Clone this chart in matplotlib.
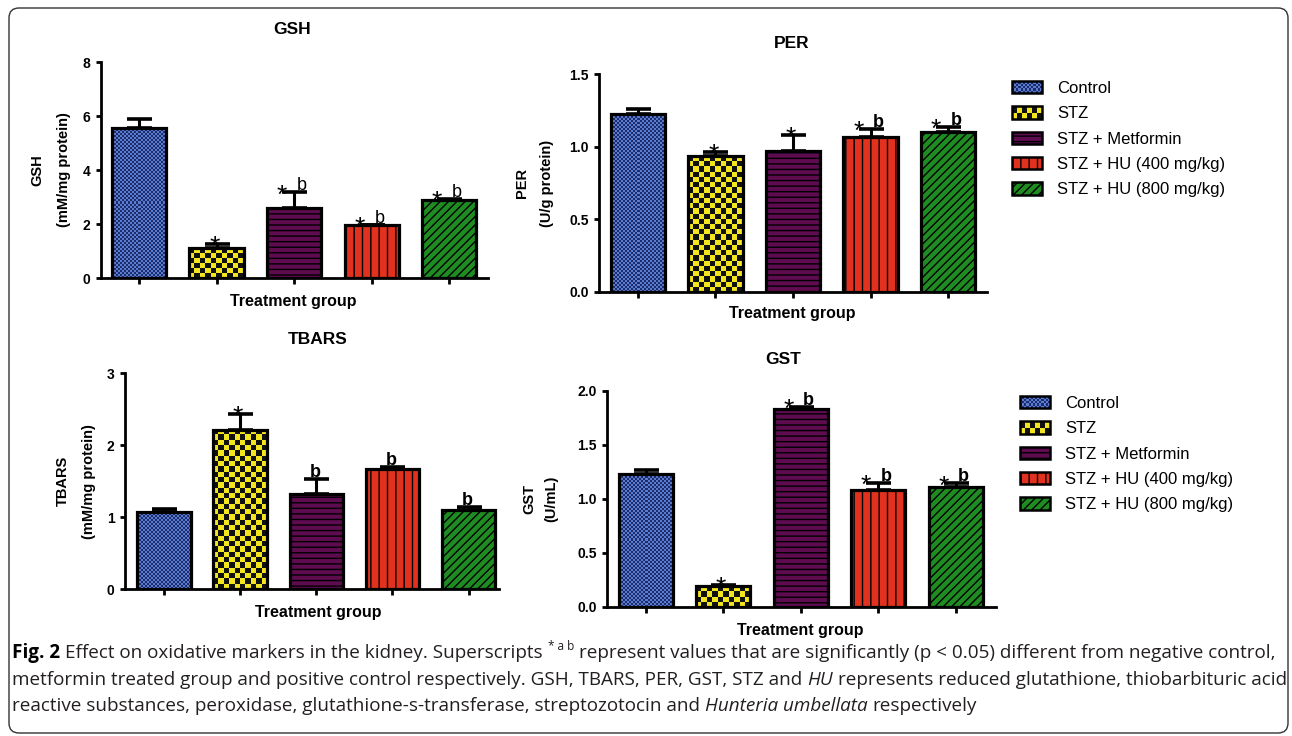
import numpy as np
import matplotlib
matplotlib.use('Agg')
import matplotlib.pyplot as plt
from matplotlib.colors import ListedColormap
from matplotlib.patches import Patch, Rectangle, FancyBboxPatch
from matplotlib.legend_handler import HandlerBase
from matplotlib.transforms import IdentityTransform

W, H = 1292, 736

groups = ['Control', 'STZ', 'STZ + Metformin', 'STZ + HU (400 mg/kg)', 'STZ + HU (800 mg/kg)']

# mean and upper error
gsh_mean = [5.57, 1.10, 2.60, 1.95, 2.88]
gsh_err = [0.32, 0.15, 0.57, 0.03, 0.04]
gsh_sig = ['', '*', '*b', '*b', '*b']

per_mean = [1.224, 0.937, 0.973, 1.070, 1.102]
per_err = [0.035, 0.025, 0.106, 0.051, 0.033]
per_sig = ['', '*', '*', '*b', '*b']

tbars_mean = [1.078, 2.217, 1.319, 1.675, 1.100]
tbars_err = [0.037, 0.223, 0.213, 0.025, 0.047]
tbars_sig = ['', '*', 'b', 'b', 'b']

gst_mean = [1.229, 0.191, 1.830, 1.084, 1.109]
gst_err = [0.040, 0.015, 0.021, 0.062, 0.034]
gst_sig = ['', '*', '*b', '*b', '*b']

colors = ['#4a6cc4', '#f3e61e', '#5e0b50', '#e2321f', '#1f8c22']
hatches = [None, None, '---', '||', '////']

plt.rcParams['font.family'] = ['Liberation Sans', 'DejaVu Sans']
plt.rcParams['hatch.linewidth'] = 1.0

fig = plt.figure(figsize=(W / 100, H / 100), dpi=100)
fig.patch.set_facecolor('white')


def fx(x):
    return x / W


def fy(y):
    return 1 - y / H


def add_checker(ax, bar, sq, c1, c2):
    x0 = bar.get_x()
    w = bar.get_width()
    h = bar.get_height()
    p0 = ax.transData.transform((x0, 0))
    p1 = ax.transData.transform((x0 + w, h))
    nx = max(1, int(round((p1[0] - p0[0]) / sq)))
    ny = max(1, int(round((p1[1] - p0[1]) / sq)))
    arr = np.add.outer(np.arange(ny), np.arange(nx)) % 2
    im = ax.imshow(arr, extent=(x0, x0 + w, 0, h), cmap=ListedColormap([c1, c2]),
                   interpolation='nearest', aspect='auto', origin='lower', zorder=2.5)
    im.set_clip_path(bar)


def panel(rect, xlim, mean, err, sig, ylim, yticks, fmt, title, title_xy, ylab, ylab_x, xlab_xy, bold_b):
    left, top, right, bottom = rect
    ax = fig.add_axes([fx(left), fy(bottom), (right - left) / W, (bottom - top) / H])
    x = np.arange(len(mean))
    ax.set_xlim(*xlim)
    ax.set_ylim(*ylim)
    bars = ax.bar(x, mean, 0.70, color=colors, edgecolor='black', linewidth=0, zorder=2)
    for b, hch in zip(bars, hatches):
        if hch:
            b.set_hatch(hch)
    add_checker(ax, bars[0], 2.0, '#5a7cd0', '#1d2c6a')
    add_checker(ax, bars[1], 5.3, '#f3e61e', '#111111')
    ax.bar(x, mean, 0.70, fill=False, edgecolor='black', linewidth=2.3, zorder=4)
    ax.errorbar(x, mean, yerr=[np.zeros(len(err)), err], fmt='none', ecolor='black',
                elinewidth=2.2, capsize=9, capthick=2.6, zorder=3)
    fw = 'bold' if bold_b else 'normal'
    star = dict(textcoords='offset pixels', ha='center', va='baseline', fontsize=19, zorder=5)
    for xi, m, e, s in zip(x, mean, err, sig):
        top_v = m + e
        if s == '*':
            ax.annotate('*', (xi, top_v), xytext=(-2, -10), **star)
        elif s == 'b':
            ax.annotate('b', (xi, top_v), xytext=(-1, 2), textcoords='offset pixels',
                        ha='center', va='baseline', fontsize=13, fontweight=fw, zorder=5)
        elif s == '*b':
            ax.annotate('*', (xi, top_v), xytext=(-12, -10), **star)
            ax.annotate('b', (xi, top_v), xytext=(8, 2), textcoords='offset pixels',
                        ha='center', va='baseline', fontsize=13, fontweight=fw, zorder=5)
    ax.set_yticks(yticks)
    ax.set_yticklabels([fmt % t for t in yticks], fontweight='bold', fontsize=10)
    ax.set_xticks(x)
    ax.set_xticklabels([])
    for sp in ['top', 'right']:
        ax.spines[sp].set_visible(False)
    for sp in ['left', 'bottom']:
        ax.spines[sp].set_linewidth(2)
    ax.tick_params(axis='y', width=2, length=3.5, pad=4)
    ax.tick_params(axis='x', width=2, length=4.5)
    ax.set_facecolor('none')
    fig.text(fx(title_xy[0]), fy(title_xy[1]), title, ha='center', va='center',
             fontsize=12.5, fontweight='bold')
    yc = fy((top + bottom) / 2)
    fig.text(fx(ylab_x[0]), yc, title, rotation=90, ha='center', va='center',
             fontsize=10.5, fontweight='bold')
    fig.text(fx(ylab_x[1]), yc, ylab, rotation=90, ha='center', va='center',
             fontsize=10.5, fontweight='bold')
    fig.text(fx(xlab_xy[0]), fy(xlab_xy[1]), 'Treatment group', ha='center', va='center',
             fontsize=11.5, fontweight='bold')
    return ax


panel((101, 62, 488, 278), (-0.49, 4.5), gsh_mean, gsh_err, gsh_sig, (0, 8), [0, 2, 4, 6, 8], '%d',
      'GSH', (292, 30), '(mM/mg protein)', (37, 64), (293, 301), False)
panel((599, 74.3, 987, 291.7), (-0.5, 4.5), per_mean, per_err, per_sig, (0, 1.5), [0, 0.5, 1.0, 1.5], '%.1f',
      'PER', (792, 44), '(U/g protein)', (522, 547), (792, 314), True)
panel((125, 373.3, 499, 589.3), (-0.51, 4.4), tbars_mean, tbars_err, tbars_sig, (0, 3), [0, 1, 2, 3], '%d',
      'TBARS', (318, 340), '(mM/mg protein)', (63, 89), (318, 612), True)
panel((607, 390.7, 996, 607), (-0.5, 4.52), gst_mean, gst_err, gst_sig, (0, 2.0), [0, 0.5, 1.0, 1.5, 2.0], '%.1f',
      'GST', (783, 359), '(U/mL)', (529, 551), (800, 630), True)


class CheckerHandler(HandlerBase):
    def __init__(self, c1, c2, nx, ny):
        super().__init__()
        self.c1, self.c2, self.nx, self.ny = c1, c2, nx, ny

    def create_artists(self, legend, orig_handle, xdescent, ydescent, width, height, fontsize, trans):
        x0, y0 = -xdescent, -ydescent
        arts = [Rectangle((x0, y0), width, height, facecolor=self.c1, edgecolor='none', transform=trans)]
        dx, dy = width / self.nx, height / self.ny
        for i in range(self.nx):
            for j in range(self.ny):
                if (i + j) % 2:
                    arts.append(Rectangle((x0 + i * dx, y0 + j * dy), dx, dy, facecolor=self.c2,
                                          edgecolor='none', transform=trans))
        arts.append(Rectangle((x0, y0), width, height, facecolor='none', edgecolor='black',
                              linewidth=1.8, transform=trans))
        return arts


def add_legend(x, y):
    handles = []
    for c, hch in zip(colors, hatches):
        handles.append(Patch(facecolor=c, edgecolor='black', hatch=hch, linewidth=1.8))
    hmap = {handles[0]: CheckerHandler('#5a7cd0', '#1d2c6a', 14, 5),
            handles[1]: CheckerHandler('#f3e61e', '#111111', 6, 2)}
    leg = fig.legend(handles, groups, handler_map=hmap, loc='upper left',
                     bbox_to_anchor=(fx(x), fy(y)), frameon=False, fontsize=12,
                     handlelength=1.8, handleheight=0.75, handletextpad=0.9,
                     labelspacing=0.62, borderpad=0, borderaxespad=0)
    return leg


add_legend(1012, 81)
add_legend(1020, 396)

# outer rounded frame
frame = FancyBboxPatch((9, H - 733), 1279, 725, boxstyle='round,pad=0,rounding_size=10',
                       transform=IdentityTransform(), facecolor='none', edgecolor='#333333',
                       linewidth=1.0)
fig.add_artist(frame)

# caption
renderer = fig.canvas.get_renderer()
cap_font = ['Open Sans', 'DejaVu Sans']
cap_color = '#231f20'

caption = [
    [('Fig. 2', {'fontweight': 'bold'}), (' Effect on oxidative markers in the kidney. Superscripts ', {}),
     ('* a b', {'sup': True}),
     (' represent values that are significantly (p < 0.05) different from negative control,', {})],
    [('metformin treated group and positive control respectively. GSH, TBARS, PER, GST, STZ and ', {}),
     ('HU', {'fontstyle': 'italic'}), (' represents reduced glutathione, thiobarbituric acid', {})],
    [('reactive substances, peroxidase, glutathione-s-transferase, streptozotocin and ', {}),
     ('Hunteria umbellata', {'fontstyle': 'italic'}), (' respectively', {})],
]
line_y = [653, 680, 706]


def text_w(t):
    return t.get_window_extent(renderer).width


def draw_caption(size):
    made = []
    probe = fig.text(0, 0, 'a a', family=cap_font, fontsize=size)
    probe2 = fig.text(0, 0, 'aa', family=cap_font, fontsize=size)
    space = text_w(probe) - text_w(probe2)
    probe.remove()
    probe2.remove()
    widths = []
    for parts, y in zip(caption, line_y):
        x = 12
        for s, opt in parts:
            opt = dict(opt)
            sup = opt.pop('sup', False)
            lead = len(s) - len(s.lstrip(' '))
            trail = len(s) - len(s.rstrip(' '))
            body = s.strip(' ')
            x += lead * space
            if sup:
                t = fig.text(fx(x), fy(y - 6), body, family=cap_font, fontsize=size * 0.62,
                             color=cap_color, ha='left', va='center')
            else:
                t = fig.text(fx(x), fy(y), body, family=cap_font, fontsize=size,
                             color='black' if opt.get('fontweight') else cap_color,
                             ha='left', va='center', **opt)
            made.append(t)
            x += text_w(t) + trail * space
        widths.append(x - 12)
    return made, widths


made, widths = draw_caption(12)
for t in made:
    t.remove()
size = 12 * 1268 / max(widths)
draw_caption(size)

fig.savefig('out.png', dpi=100)
